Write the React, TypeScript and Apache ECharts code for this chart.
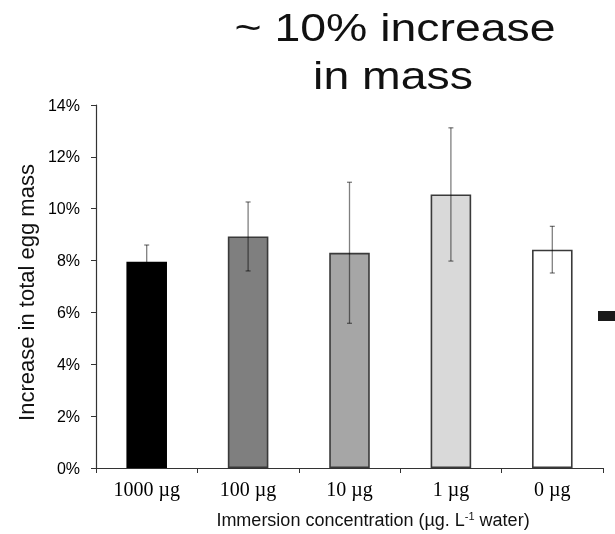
import React, { useEffect, useRef } from 'react';
import * as echarts from 'echarts';

const categories = ['1000 µg', '100 µg', '10 µg', '1 µg', '0 µg'];
const means = [7.95, 8.93, 8.3, 10.55, 8.42];
const errors = [0.65, 1.33, 2.72, 2.57, 0.9];
const barColors = ['#000000', '#7f7f7f', '#a6a6a6', '#d9d9d9', '#ffffff'];
const titleLines = ['~ 10% increase', 'in mass'];
const yAxisName = 'Increase in total egg mass';
const yMin = 0;
const yMax = 14;
const yInterval = 2;

export default function App() {
  const ref = useRef<HTMLDivElement>(null);
  useEffect(() => {
    if (!ref.current) return;
    const chart = echarts.init(ref.current, null, { renderer: 'svg' });
    const barData = means.map((m, i) => ({
      value: m,
      itemStyle: {
        color: barColors[i],
        borderColor: i === 0 ? '#000000' : '#3a3a3a',
        borderWidth: 1.6,
      },
    }));
    const errData = means.map((m, i) => [i, m - errors[i], m + errors[i]]);
    chart.setOption({
      animation: false,
      grid: { left: 96, right: 12, top: 105, bottom: 66 },
      xAxis: {
        type: 'category',
        data: categories,
        boundaryGap: true,
        axisLine: { lineStyle: { color: '#333', width: 1.2 } },
        axisTick: { show: true, inside: false, length: 5, lineStyle: { color: '#333' } },
        axisLabel: {
          margin: 11,
          color: '#000',
          fontFamily: '"Liberation Serif", "Times New Roman", serif',
          fontSize: 20,
        },
      },
      yAxis: {
        type: 'value',
        min: yMin,
        max: yMax,
        interval: yInterval,
        splitLine: { show: false },
        axisLine: { show: true, lineStyle: { color: '#333', width: 1.2 } },
        axisTick: { show: true, inside: false, length: 5, lineStyle: { color: '#333' } },
        axisLabel: {
          margin: 16,
          color: '#000',
          fontFamily: '"Liberation Sans", Arial, sans-serif',
          fontSize: 16,
          formatter: '{value}%',
        },
        name: yAxisName,
        nameLocation: 'middle',
        nameGap: 57,
        nameTextStyle: {
          color: '#111',
          fontFamily: '"Liberation Sans", Arial, sans-serif',
          fontSize: 22,
          padding: [0, 12, 0, 0],
        },
      },
      series: [
        {
          type: 'bar',
          data: barData,
          barWidth: '40%',
          z: 2,
        },
        {
          type: 'custom',
          data: errData,
          encode: { x: 0, y: [1, 2] },
          z: 3,
          renderItem: (params: any, api: any) => {
            const x = api.value(0);
            const lo = api.coord([x, api.value(1)]);
            const hi = api.coord([x, api.value(2)]);
            const cap = 2.5;
            const style = { stroke: 'rgba(0,0,0,0.5)', lineWidth: 1.3 };
            return {
              type: 'group',
              children: [
                { type: 'line', shape: { x1: lo[0], y1: lo[1], x2: hi[0], y2: hi[1] }, style },
                { type: 'line', shape: { x1: lo[0] - cap, y1: lo[1], x2: lo[0] + cap, y2: lo[1] }, style },
                { type: 'line', shape: { x1: hi[0] - cap, y1: hi[1], x2: hi[0] + cap, y2: hi[1] }, style },
              ],
            };
          },
        },
      ],
      graphic: [
        {
          type: 'text',
          x: 395,
          y: 27,
          scaleX: 1.19,
          style: {
            text: titleLines[0],
            fontSize: 39,
            fontFamily: '"Liberation Sans", Arial, sans-serif',
            fill: '#111',
            align: 'center',
            verticalAlign: 'middle',
          },
        },
        {
          type: 'text',
          x: 393,
          y: 75,
          scaleX: 1.19,
          style: {
            text: titleLines[1],
            fontSize: 39,
            fontFamily: '"Liberation Sans", Arial, sans-serif',
            fill: '#111',
            align: 'center',
            verticalAlign: 'middle',
          },
        },
        {
          type: 'text',
          x: 373,
          y: 520,
          style: {
            text: 'Immersion concentration (µg. L{sup|-1} water)',
            fontSize: 18,
            fontFamily: '"Liberation Sans", Arial, sans-serif',
            fill: '#111',
            align: 'center',
            verticalAlign: 'middle',
            rich: {
              sup: {
                fontSize: 11,
                fontFamily: '"Liberation Sans", Arial, sans-serif',
                fill: '#111',
                verticalAlign: 'top',
                padding: [0, 0, 8, 0],
              },
            },
          },
        },
        {
          type: 'rect',
          shape: { x: 598, y: 311, width: 17, height: 10 },
          style: { fill: '#1a1a1a' },
        },
      ],
    });
    return () => chart.dispose();
  }, []);
  return <div ref={ref} style={{ position: 'fixed', left: 0, top: 0, width: 615, height: 534 }} />;
}
